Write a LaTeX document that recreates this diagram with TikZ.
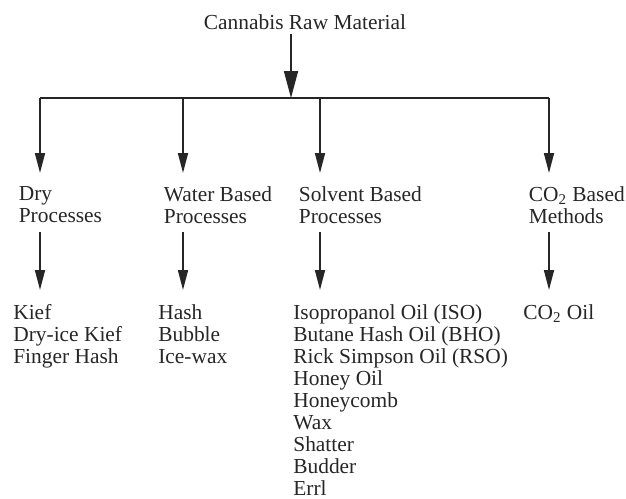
\documentclass[tikz,border=0pt]{standalone}
\usepackage{fontspec}
\setmainfont{Liberation Serif}
\usetikzlibrary{arrows.meta, positioning}

\begin{document}
\begin{tikzpicture}[x=0.5pt, y=-0.5pt,
    node distance=59pt,
    >={Triangle[length=10pt,width=5pt]},
    color=black!85,
    line width=0.85pt,
    every node/.style={inner sep=0pt, font=\fontsize{10.7pt}{11pt}\selectfont},
    group/.style={align=left, anchor=north west},
    products/.style={align=left, xshift=-2.75pt}]

    \useasboundingbox (0,0) rectangle (626,498);

    \node (raw) [anchor=base] at (305,29) {Cannabis Raw Material};

    \coordinate (hub) at (291,98);
    \coordinate (b_1) at (40,98);
    \coordinate (b_2) at (183,98);
    \coordinate (b_3) at (320,98);
    \coordinate (b_4) at (549,98);

    \node[group] (dry)     at (18,186)  {Dry\\Processes};
    \node[group] (water)   at (163,186) {Water Based\\Processes};
    \node[group] (solvent) at (298,186) {Solvent Based\\Processes};
    \node[group] (co2)     at (528,186) {CO\textsubscript{2} Based\\Methods};

    \node[products] (dry_out)     [below=of dry.north west, anchor=north west] {Kief\\Dry-ice Kief\\Finger Hash};
    \node[products] (water_out)   [below=of water.north west, anchor=north west] {Hash\\Bubble\\Ice-wax};
    \node[products] (solvent_out) [below=of solvent.north west, anchor=north west]
        {Isopropanol Oil (ISO)\\Butane Hash Oil (BHO)\\Rick Simpson Oil (RSO)\\Honey Oil\\Honeycomb\\Wax\\Shatter\\Budder\\Errl};
    \node[products] (co2_out)     [below=of co2.north west, anchor=north west] {CO\textsubscript{2} Oil};

    \draw[->, >={Triangle[length=13.5pt,width=7pt]}, shorten <=2pt] (raw.south -| hub) -- (hub);
    \draw (b_1) -- (b_4);

    \path[->, shorten >=6.5pt]
    (b_1) edge (b_1 |- dry.north)
    (b_2) edge (b_2 |- water.north)
    (b_3) edge (b_3 |- solvent.north)
    (b_4) edge (b_4 |- co2.north);

    \path[->, shorten >=7pt]
    ([yshift=-23pt]b_1 |- dry.north)     edge (b_1 |- dry_out.north)
    ([yshift=-23pt]b_2 |- water.north)   edge (b_2 |- water_out.north)
    ([yshift=-23pt]b_3 |- solvent.north) edge (b_3 |- solvent_out.north)
    ([yshift=-23pt]b_4 |- co2.north)     edge (b_4 |- co2_out.north);
\end{tikzpicture}
\end{document}
